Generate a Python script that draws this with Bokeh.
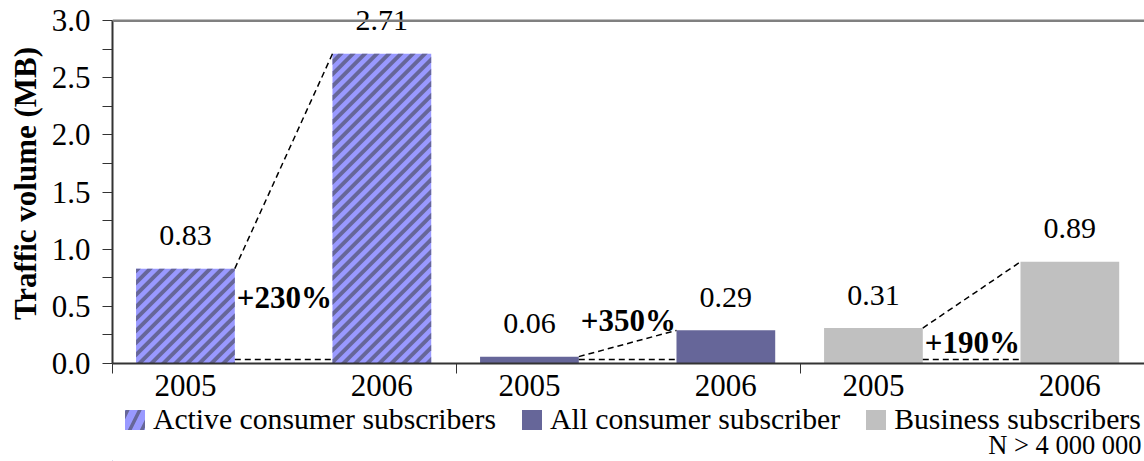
from bokeh.plotting import figure
from bokeh.layouts import column
from bokeh.models import (ColumnDataSource, FixedTicker, Span, Legend, LegendItem,
                          Label, NumeralTickFormatter, Range1d)
from bokeh.embed import file_html
from bokeh.resources import INLINE
from bokeh.core.properties import value

# ---- data ----
groups = ["Active consumer subscribers", "All consumer subscriber", "Business subscribers"]
years = ["2005", "2006"]
vol_2005 = [0.83, 0.06, 0.31]
vol_2006 = [2.71, 0.29, 0.89]
growth = ["+230%", "+350%", "+190%"]
y_ticks = [0.0, 0.5, 1.0, 1.5, 2.0, 2.5, 3.0]
footnote = "N > 4 000 000"

# ---- layout / style ----
FONT = "Liberation Serif, Times New Roman, serif"
colors = ["#9999FF", "#666699", "#C0C0C0"]
STRIPE = "#666699"
OFF = [0.212, 0.783]      # bar centre offsets inside a group
BW = 0.287                # bar width
growth_label_y = [0.58, 0.38, 0.18]
base_y = 0.035
FW, FH = 1032, 360        # frame size of main plot (px)
XMAX, YMAX = 3, 3.15
PERIOD, SW = 12, 5.5      # stripe period and stripe width (px, horizontal)


def _clip(poly, inside, cross):
    out = []
    for j in range(len(poly)):
        cur, prev = poly[j], poly[j - 1]
        if inside(cur):
            if not inside(prev):
                out.append(cross(prev, cur))
            out.append(cur)
        elif inside(prev):
            out.append(cross(prev, cur))
    return out


def _xcross(x0):
    def f(a, b):
        t = (x0 - a[0]) / (b[0] - a[0])
        return (x0, a[1] + t * (b[1] - a[1]))
    return f


def stripe_polys(xl, xr, yb, yt, kx, ky):
    """'/' stripe polygons inside a rectangle (data coords); kx, ky = px per unit"""
    Xl, Xr, Yb, Yt = xl * kx, xr * kx, yb * ky, yt * ky
    xs, ys = [], []
    for k in range(int((Xl - Yt) // PERIOD) - 2, int(Xr // PERIOD) + 2):
        c = k * PERIOD
        poly = [(c + Yb, Yb), (c + Yt, Yt), (c + SW + Yt, Yt), (c + SW + Yb, Yb)]
        poly = _clip(poly, lambda q_: q_[0] >= Xl, _xcross(Xl))
        if poly:
            poly = _clip(poly, lambda q_: q_[0] <= Xr, _xcross(Xr))
        if len(poly) >= 3:
            xs.append([pt[0] / kx for pt in poly])
            ys.append([pt[1] / ky for pt in poly])
    return xs, ys


p = figure(width=1144, height=402, x_range=Range1d(0, XMAX), y_range=Range1d(0, YMAX),
           output_backend="svg", toolbar_location=None,
           min_border_left=112, min_border_right=0, min_border_top=3, min_border_bottom=39)
p.xgrid.visible = False
p.ygrid.visible = False
p.outline_line_color = None
kx, ky = FW / XMAX, FH / YMAX

for i, g in enumerate(groups):
    xs = [i + OFF[0], i + OFF[1]]
    tops = [vol_2005[i], vol_2006[i]]
    src = ColumnDataSource(dict(x=xs, top=tops, label=[f"{v:.2f}" for v in tops]))
    p.vbar(x="x", top="top", width=BW, source=src, fill_color=colors[i], line_color=None)
    if i == 0:
        px_, py_ = [], []
        for xc, t in zip(xs, tops):
            a, b = stripe_polys(xc - BW / 2, xc + BW / 2, 0, t, kx, ky)
            px_ += a; py_ += b
        p.patches(xs=px_, ys=py_, fill_color=STRIPE, line_color=None)
    p.text(x="x", y="top", text="label", source=src, text_align="center",
           text_baseline="middle", y_offset=-33, text_font=value(FONT),
           text_font_size="30px", text_color="black")
    x1 = i + OFF[0] + BW / 2
    x2 = i + OFF[1] - BW / 2
    p.segment(x0=[x1, x1], y0=[vol_2005[i], base_y], x1=[x2, x2], y1=[vol_2006[i], base_y],
              line_dash="6 4", line_width=1.5, line_color="black")

gx = [i + OFF[0] + BW / 2 for i in range(3)]
p.text(x=gx, y=growth_label_y, text=growth, text_align="left", text_baseline="middle",
       x_offset=2, text_font=value(FONT), text_font_size="31px", text_font_style="bold",
       text_color="black")

p.add_layout(Span(location=3.0, dimension="width", line_color="#808080", line_width=2.5))

# y axis
minor = [(a + b) / 2 for a, b in zip(y_ticks[:-1], y_ticks[1:])]
p.yaxis.ticker = FixedTicker(ticks=y_ticks, minor_ticks=minor)
p.yaxis.bounds = (0, 3)
p.yaxis.formatter = NumeralTickFormatter(format="0.0")
p.yaxis.axis_label = "Traffic volume (MB)"
p.yaxis.axis_label_text_font = FONT
p.yaxis.axis_label_text_font_size = "31px"
p.yaxis.axis_label_text_font_style = "bold"
p.yaxis.axis_label_text_color = "black"
p.yaxis.axis_label_standoff = 6
p.yaxis.major_label_text_font = FONT
p.yaxis.major_label_text_font_size = "31px"
p.yaxis.major_label_text_color = "black"
p.yaxis.major_label_standoff = 12
p.yaxis.major_tick_out = 10
p.yaxis.major_tick_in = 0
p.yaxis.minor_tick_out = 10
p.yaxis.minor_tick_in = 0
p.yaxis.axis_line_width = 2
p.yaxis.axis_line_color = "#333333"
p.yaxis.major_tick_line_color = "#333333"
p.yaxis.minor_tick_line_color = "#333333"

# x axis
centers = [i + o for i in range(3) for o in OFF]
p.xaxis.ticker = FixedTicker(ticks=centers, minor_ticks=[0, 1, 2, 3])
p.xaxis.major_label_overrides = {c: years[j % 2] for j, c in enumerate(centers)}
p.xaxis.major_tick_line_color = None
p.xaxis.major_tick_out = 0
p.xaxis.major_tick_in = 0
p.xaxis.minor_tick_out = 10
p.xaxis.minor_tick_in = 0
p.xaxis.minor_tick_line_color = "#333333"
p.xaxis.axis_line_width = 2
p.xaxis.axis_line_color = "#333333"
p.xaxis.major_label_text_font = FONT
p.xaxis.major_label_text_font_size = "31px"
p.xaxis.major_label_text_color = "black"
p.xaxis.major_label_standoff = 1

# ---- legend + footnote strip ----
QH = 59
q = figure(width=1144, height=QH, x_range=Range1d(0, FW), y_range=Range1d(0, QH),
           output_backend="svg", toolbar_location=None, x_axis_type=None, y_axis_type=None,
           min_border_left=112, min_border_right=0, min_border_top=0, min_border_bottom=0)
q.xgrid.visible = False
q.ygrid.visible = False
q.outline_line_color = None

items = []
for i, g in enumerate(groups):
    kw = {}
    if i == 0:
        kw = dict(hatch_pattern="/", hatch_color=STRIPE, hatch_weight=3.5, hatch_scale=24)
    r = q.vbar(x=[-100], top=[1], width=1, fill_color=colors[i], line_color=None, **kw)
    items.append(LegendItem(label=g, renderers=[r]))

legend = Legend(items=items, orientation="horizontal", location=(10, 25),
                label_text_font=FONT, label_text_font_size="29.7px", label_text_color="black",
                glyph_width=25, glyph_height=25, label_standoff=6, spacing=23,
                padding=0, margin=0, border_line_color=None, background_fill_alpha=0)
q.add_layout(legend)

q.add_layout(Label(x=1029, y=17, x_units="screen", y_units="screen", text=footnote,
                   text_align="right", text_baseline="middle", text_font=FONT,
                   text_font_size="26.5px", text_color="black"))

layout = column(p, q, spacing=0)
open("out.html", "w").write(file_html(layout, INLINE))
